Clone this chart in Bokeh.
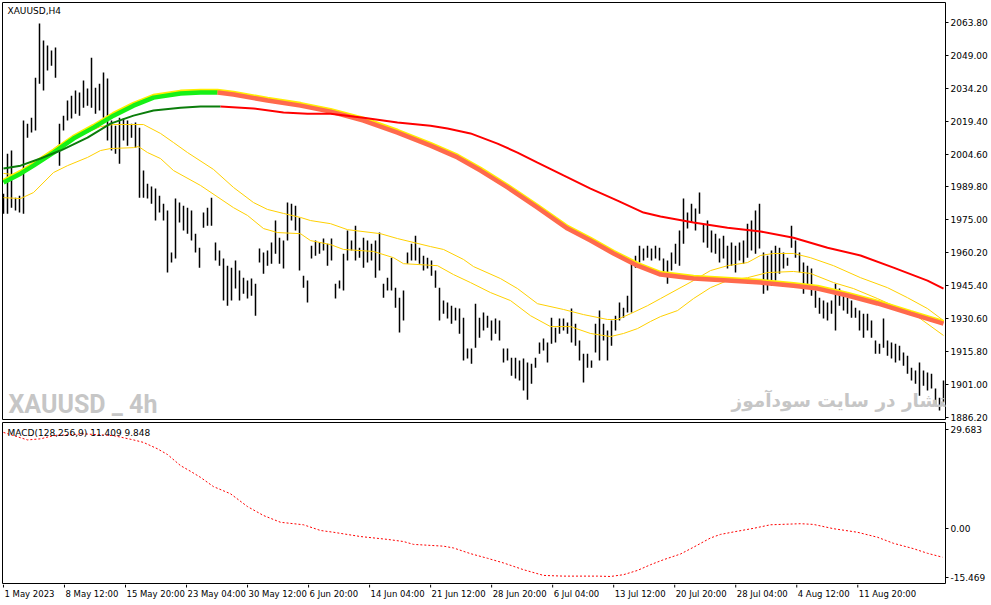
from bokeh.plotting import figure
from bokeh.layouts import column
from bokeh.models import Range1d, FixedTicker, PrintfTickFormatter, CustomJSTickFormatter, Label
from bokeh.core.properties import value
from bokeh.embed import file_html
from bokeh.resources import INLINE

# ---------------- data ----------------
highs = [1986.8, 2004.8, 2006.2, 1985.0, 1985.9, 2019.7, 2018.3, 2021.0, 2039.0, 2063.4,
         2055.7, 2053.5, 2051.2, 2052.5, 2018.3, 2021.9, 2028.7, 2030.9, 2033.2, 2032.3,
         2037.7, 2034.1, 2048.0, 2034.5, 2036.3, 2041.3, 2038.6, 2019.7, 2017.4, 2021.0,
         2020.6, 2019.7, 2018.3, 2018.8, 2016.5, 1997.2, 1991.3, 1990.0, 1989.1, 1985.9,
         1982.3, 1979.2, 1960.3, 1984.6, 1982.8, 1981.4, 1980.5, 1979.2, 1968.8, 1962.5,
         1978.3, 1980.5, 1985.0, 1964.8, 1961.2, 1957.6, 1954.4, 1953.5, 1956.7, 1952.2,
         1949.0, 1947.7, 1948.6, 1946.3, 1962.1, 1960.3, 1961.2, 1964.8, 1974.7, 1967.0,
         1965.7, 1982.8, 1982.3, 1981.4, 1976.0, 1949.9, 1947.7, 1963.4, 1965.7, 1964.8,
         1966.6, 1964.3, 1966.6, 1946.3, 1947.7, 1959.8, 1970.2, 1965.7, 1972.4, 1962.5,
         1967.0, 1965.7, 1964.3, 1965.7, 1969.3, 1946.3, 1949.0, 1958.0, 1944.5, 1940.0,
         1943.2, 1960.3, 1964.3, 1967.9, 1962.5, 1958.9, 1958.0, 1956.7, 1952.2, 1944.5,
         1938.7, 1937.8, 1936.4, 1935.5, 1935.1, 1931.0, 1917.1, 1917.1, 1937.3, 1931.0,
         1933.3, 1931.9, 1929.7, 1930.6, 1929.7, 1917.1, 1917.1, 1913.0, 1913.0, 1911.7,
         1912.6, 1910.8, 1910.3, 1913.0, 1919.8, 1921.6, 1919.8, 1931.0, 1926.5, 1930.6,
         1930.6, 1928.8, 1935.1, 1928.3, 1920.7, 1914.8, 1914.8, 1911.7, 1928.3, 1934.2,
         1928.3, 1925.2, 1929.7, 1931.9, 1937.8, 1935.5, 1940.9, 1956.7, 1958.9, 1963.4,
         1962.1, 1963.4, 1962.1, 1963.4, 1962.5, 1957.6, 1956.7, 1960.3, 1964.3, 1970.2,
         1984.6, 1978.3, 1982.3, 1980.1, 1987.3, 1973.3, 1974.7, 1970.2, 1968.8, 1966.6,
         1967.9, 1963.4, 1964.8, 1963.4, 1964.8, 1965.7, 1973.3, 1974.7, 1979.2, 1982.3,
         1960.3, 1958.9, 1961.2, 1963.4, 1962.5, 1960.3, 1958.0, 1972.4, 1965.7, 1960.3,
         1955.8, 1954.4, 1953.1, 1943.2, 1940.0, 1938.7, 1937.8, 1938.7, 1946.3, 1944.1,
         1941.8, 1940.0, 1938.7, 1935.5, 1934.2, 1932.8, 1932.8, 1929.7, 1920.7, 1919.3,
         1930.6, 1920.7, 1919.8, 1919.3, 1918.4, 1915.3, 1913.9, 1908.5, 1907.2, 1910.8,
         1907.2, 1906.3, 1905.8, 1899.1, 1895.0, 1902.7]
lows = [1977.8, 1977.8, 1980.5, 1979.2, 1978.3, 1977.8, 2012.0, 2014.3, 2015.2, 2036.3,
        2033.2, 2042.2, 2044.4, 2039.0, 1999.4, 2015.2, 2019.7, 2020.6, 2022.8, 2021.9,
        2025.5, 2026.4, 2025.5, 2022.8, 2024.2, 2021.0, 2010.7, 2006.2, 2004.8, 2000.3,
        2010.7, 2008.4, 2012.0, 2007.5, 1985.0, 1985.0, 1984.6, 1982.3, 1974.7, 1978.3,
        1974.7, 1951.3, 1955.8, 1957.6, 1973.8, 1970.2, 1968.8, 1965.7, 1960.3, 1953.5,
        1971.5, 1972.4, 1972.4, 1956.7, 1954.4, 1938.7, 1936.4, 1938.7, 1944.1, 1938.7,
        1941.8, 1939.6, 1940.9, 1931.9, 1955.8, 1950.8, 1954.4, 1955.3, 1959.8, 1955.3,
        1953.1, 1965.7, 1974.7, 1970.2, 1952.2, 1944.5, 1937.8, 1957.6, 1958.9, 1959.8,
        1961.2, 1954.4, 1956.7, 1939.6, 1944.1, 1943.2, 1956.7, 1961.2, 1956.7, 1958.0,
        1953.5, 1955.8, 1956.7, 1949.0, 1952.2, 1940.0, 1943.2, 1943.2, 1935.5, 1924.3,
        1929.7, 1955.3, 1956.7, 1956.7, 1955.3, 1952.2, 1953.1, 1949.9, 1944.5, 1929.7,
        1932.8, 1930.6, 1928.3, 1929.7, 1923.8, 1911.7, 1912.6, 1910.3, 1917.5, 1922.0,
        1925.2, 1926.5, 1920.7, 1923.8, 1920.7, 1910.8, 1911.7, 1904.9, 1903.6, 1902.7,
        1898.2, 1894.1, 1901.3, 1908.5, 1914.8, 1916.2, 1910.8, 1919.3, 1919.8, 1923.8,
        1925.2, 1923.8, 1919.8, 1918.4, 1911.7, 1901.8, 1908.5, 1908.5, 1915.3, 1911.7,
        1920.7, 1911.7, 1918.4, 1925.2, 1929.7, 1931.0, 1933.3, 1933.3, 1953.5, 1955.8,
        1956.7, 1958.0, 1956.7, 1957.6, 1956.7, 1949.9, 1946.3, 1952.2, 1955.3, 1954.4,
        1964.3, 1971.1, 1973.8, 1970.2, 1977.8, 1964.8, 1962.5, 1960.3, 1959.8, 1955.8,
        1957.6, 1953.1, 1954.4, 1951.3, 1956.7, 1955.3, 1958.0, 1961.2, 1959.8, 1962.1,
        1941.8, 1943.2, 1945.4, 1947.7, 1950.8, 1953.1, 1954.4, 1962.5, 1958.0, 1951.3,
        1941.8, 1945.4, 1940.9, 1935.5, 1932.8, 1930.6, 1929.7, 1932.8, 1925.2, 1936.4,
        1934.2, 1932.8, 1931.0, 1931.0, 1925.2, 1922.0, 1925.2, 1922.0, 1914.8, 1914.8,
        1917.5, 1913.9, 1912.6, 1910.8, 1911.7, 1909.4, 1905.8, 1902.7, 1901.3, 1895.9,
        1900.4, 1898.2, 1899.1, 1891.4, 1889.2, 1892.8]
bar_x = [2 * k for k in range(len(highs))]  # H4 bar index (every second bar)

# thick moving average (rising part green, falling part salmon)
thick_up_x = [0, 8.5, 15, 25, 35, 45, 55, 65, 75, 88.5, 98.5, 107]
thick_up_y = [1991.8, 1995.8, 1999.4, 2005.3, 2011.6, 2016.5, 2021.9, 2026.4, 2030.0, 2031.9, 2032.3, 2032.3]
thick_dn_x = [107, 115, 132, 148.5, 163.5, 180, 197, 213.5, 227, 238.5, 252, 267, 282, 293.5, 305, 317,
              328.5, 345, 362, 378.5, 395, 407, 422, 437, 453.5, 470]
thick_dn_y = [2032.3, 2031.4, 2028.7, 2026.4, 2023.7, 2019.7, 2014.3, 2008.4, 2003.1, 1997.2, 1989.6,
              1980.5, 1971.1, 1965.7, 1959.9, 1954.4, 1950.4, 1948.6, 1947.7, 1946.8, 1945.4, 1944.1,
              1941.0, 1937.4, 1932.8, 1928.3]

# slow moving average (dark green rising, red falling)
slow_up_x = [0, 8.5, 18.5, 28.5, 42, 53.5, 65, 75, 88.5, 98.5, 108.5]
slow_up_y = [1998.1, 1999.4, 2002.6, 2006.2, 2012.0, 2018.3, 2021.9, 2024.2, 2025.5, 2026.0, 2026.0]
slow_dn_x = [108.5, 125, 140, 152, 163.5, 180, 197, 213.5, 222, 233.5, 247, 257, 267, 280, 293.5, 307,
             320, 328.5, 345, 362, 378.5, 395, 412, 428.5, 445, 462, 470]
slow_dn_y = [2026.0, 2025.1, 2023.3, 2022.8, 2022.8, 2021.0, 2018.8, 2017.4, 2016.1, 2013.9, 2009.3,
             2005.3, 2000.8, 1995.0, 1989.1, 1983.7, 1978.3, 1976.5, 1973.8, 1971.5, 1969.8, 1967.0,
             1962.5, 1959.0, 1953.5, 1947.7, 1944.1]

# two thin yellow averages
band_up_x = [0, 8.5, 20, 27, 35, 48.5, 55, 70, 78.5, 85, 92, 105, 115, 125, 132, 140, 148.5, 153.5,
             163.5, 172, 188.5, 197, 213.5, 220, 230, 235, 248.5, 257, 267, 280, 290, 302, 307, 313.5,
             322, 328.5, 345, 353.5, 362, 372, 378.5, 385, 395, 403.5, 415, 428.5, 442, 452, 462, 470]
band_up_y = [1995.9, 1995.0, 2003.1, 2008.4, 2011.6, 2017.0, 2017.9, 2017.9, 2013.9, 2009.8, 2005.3,
             1997.7, 1989.6, 1982.8, 1979.7, 1977.9, 1976.1, 1974.7, 1973.3, 1970.6, 1968.8, 1966.6,
             1963.0, 1961.7, 1957.2, 1954.0, 1948.6, 1944.1, 1937.3, 1934.7, 1932.4, 1930.2, 1930.2,
             1932.8, 1936.4, 1939.6, 1947.7, 1952.2, 1954.4, 1955.8, 1959.0, 1959.9, 1959.9, 1958.0,
             1954.4, 1949.0, 1944.5, 1940.0, 1935.1, 1929.7]
band_lo_x = [0, 8.5, 15, 25, 32, 42, 48.5, 53.5, 65, 67.5, 72, 78.5, 85, 98.5, 115, 122, 130, 137,
             148.5, 153.5, 163.5, 170, 185, 195, 200, 217, 225, 233.5, 243.5, 253.5, 263.5, 273.5,
             283.5, 293.5, 303.5, 310, 317, 323.5, 328.5, 337, 345, 353.5, 362, 372, 382, 395, 403.5,
             415, 425, 437, 445, 455, 470]
band_lo_y = [1985.0, 1984.6, 1987.3, 1996.3, 1999.4, 2003.1, 2006.2, 2007.1, 2007.5, 2008.0, 2005.3,
             2002.6, 1997.2, 1990.5, 1980.5, 1977.0, 1971.1, 1969.3, 1968.8, 1965.7, 1963.9, 1961.7,
             1960.8, 1958.0, 1955.3, 1954.4, 1950.4, 1946.8, 1942.3, 1938.7, 1931.9, 1927.0, 1927.0,
             1923.9, 1922.5, 1923.9, 1926.1, 1929.3, 1931.5, 1934.2, 1939.6, 1944.5, 1947.7, 1949.0,
             1951.3, 1951.8, 1950.9, 1946.8, 1944.1, 1939.6, 1936.4, 1932.8, 1923.0]

# MACD signal line
macd_x = [0, 12, 18.5, 25, 40, 55, 65, 70, 77, 82, 88.5, 93.5, 98.5, 105, 113.5, 122, 130, 138.5, 150,
          158.5, 165, 178.5, 192, 200, 205, 220, 225, 233.5, 242, 250, 260, 270, 280, 297, 303.5, 310,
          317, 323.5, 330, 338.5, 345, 353.5, 358.5, 367, 375, 383.5, 398.5, 405, 415, 427, 437, 445,
          455, 462, 469.5]
macd_y = [26.9, 24.8, 25.1, 26.0, 26.5, 26.0, 24.8, 24.1, 22.3, 20.7, 17.6, 16.0, 14.3, 11.7, 9.7, 6.1,
          3.6, 1.7, 1.0, -0.6, -1.1, -2.3, -3.1, -3.7, -4.5, -5.0, -5.5, -7.1, -8.4, -9.7, -11.6, -13.2,
          -13.4, -13.4, -13.5, -13.0, -11.8, -10.2, -8.8, -7.2, -5.3, -2.7, -1.7, -0.8, 0.0, 1.0, 1.3,
          1.1, -0.1, -1.1, -2.5, -4.2, -5.7, -7.0, -8.1]

price_ticks = [2063.8, 2049.0, 2034.2, 2019.4, 2004.6, 1989.8, 1975.0, 1960.2, 1945.4, 1930.6,
               1915.8, 1901.0, 1886.2]
macd_tick_pos = [27.7, 0.0, -13.8]
macd_tick_labels = ["29.683", "0.00", "-15.469"]
time_tick_pos = [0, 32, 64, 96, 128, 160, 192, 224, 256, 288, 320, 352, 384, 416, 448]
time_tick_labels = ["1 May 2023", "8 May 12:00", "15 May 20:00", "23 May 04:00", "30 May 12:00",
                    "6 Jun 20:00", "14 Jun 04:00", "21 Jun 12:00", "28 Jun 20:00", "6 Jul 04:00",
                    "13 Jul 12:00", "20 Jul 20:00", "28 Jul 04:00", "4 Aug 12:00", "11 Aug 20:00"]

symbol_text = "XAUUSD,H4"
macd_text = "MACD(128,256,9) 11.409 9.848"
watermark_en = "XAUUSD _ 4h"
watermark_fa = "انتشار در سایت سودآموز"

# ---------------- layout ----------------
FONT = "DejaVu Sans"
W = 991
LEFT = 2
RIGHT = 46
MAIN_FRAME_H = 417
MACD_FRAME_H = 161
LAB_H = 21

x_range = Range1d(-0.5, 471)
y_lo, y_hi = 1885.2, 2072.8


def style(fig):
    fig.xgrid.visible = False
    fig.ygrid.visible = False
    fig.outline_line_color = "black"
    fig.outline_line_width = 1
    fig.background_fill_color = "white"
    fig.border_fill_color = "white"
    for ax in fig.yaxis:
        ax.axis_line_color = None
        ax.major_tick_out = 3
        ax.major_tick_in = 0
        ax.minor_tick_line_color = None
        ax.major_label_standoff = 2
        ax.major_label_text_font = FONT
        ax.major_label_text_font_size = "9px"
        ax.major_label_text_color = "black"


# main price panel
p = figure(width=W, height=2 + MAIN_FRAME_H + 3, x_range=x_range, y_range=Range1d(y_lo, y_hi),
           x_axis_location=None, y_axis_location="right", toolbar_location=None,
           output_backend="svg", min_border_left=LEFT, min_border_right=RIGHT,
           min_border_top=2, min_border_bottom=3)
shift = 0.7
p.extra_y_ranges = {"edge": Range1d(y_lo - shift, y_hi - shift)}
style(p)
p.yaxis.ticker = FixedTicker(ticks=price_ticks)
p.yaxis.formatter = PrintfTickFormatter(format="%.2f")

p.segment(x0=bar_x, y0=lows, x1=bar_x, y1=highs, line_color="black", line_width=1.5)

p.line(band_up_x, band_up_y, line_color="#ffd000", line_width=1)
p.line(band_lo_x, band_lo_y, line_color="#ffd000", line_width=1)

p.line(thick_up_x + thick_dn_x[1:], thick_up_y + thick_dn_y[1:], line_color="#ffee00",
       line_width=4.5, y_range_name="edge")
p.line(thick_up_x, thick_up_y, line_color="#16f016", line_width=4.5)
p.line(thick_dn_x, thick_dn_y, line_color="#ff6a4d", line_width=4.5)

p.line(slow_up_x, slow_up_y, line_color="#0b7d0b", line_width=2)
p.line(slow_dn_x, slow_dn_y, line_color="#ff0000", line_width=2)

p.add_layout(Label(x=5, y=MAIN_FRAME_H - 8, x_units="screen", y_units="screen", text=symbol_text,
                   text_font=FONT, text_font_size="9px", text_color="black", text_baseline="middle"))
p.add_layout(Label(x=6, y=1, x_units="screen", y_units="screen", text=watermark_en,
                   text_font="Roboto", text_font_style="bold", text_font_size="25px",
                   text_color="#c6c6c6", text_baseline="bottom"))
p.add_layout(Label(x=729, y=19, x_units="screen", y_units="screen", text=watermark_fa,
                   text_font=FONT, text_font_style="bold", text_font_size="18.5px",
                   text_color="#c6c6c6", text_align="left", text_baseline="middle"))

# MACD panel
q = figure(width=W, height=MACD_FRAME_H + 1, x_range=x_range, y_range=Range1d(-15.469, 29.683),
           x_axis_location=None, y_axis_location="right", toolbar_location=None,
           output_backend="svg", min_border_left=LEFT, min_border_right=RIGHT,
           min_border_top=0, min_border_bottom=1)
style(q)
q.yaxis.ticker = FixedTicker(ticks=macd_tick_pos)
q.yaxis.formatter = CustomJSTickFormatter(args=dict(pos=macd_tick_pos, labels=macd_tick_labels), code="""
    for (let i = 0; i < pos.length; i++) { if (Math.abs(pos[i] - tick) < 1e-6) return labels[i]; }
    return "";
""")
q.line(macd_x, macd_y, line_color="#ff0000", line_width=1, line_dash="2 2")
q.add_layout(Label(x=5, y=MACD_FRAME_H - 10, x_units="screen", y_units="screen", text=macd_text,
                   text_font=FONT, text_font_size="9px", text_color="black", text_baseline="middle"))

# time axis strip (ticks + left-aligned labels like the terminal)
r = figure(width=W, height=LAB_H, x_range=Range1d(-0.5, 494), y_range=Range1d(0, LAB_H),
           x_axis_location=None, y_axis_location=None, toolbar_location=None,
           output_backend="svg", min_border_left=LEFT, min_border_right=0,
           min_border_top=0, min_border_bottom=0)
r.xgrid.visible = False
r.ygrid.visible = False
r.outline_line_color = None
r.segment(x0=time_tick_pos, y0=LAB_H, x1=time_tick_pos, y1=LAB_H - 3, line_color="black", line_width=1)
r.text(x=time_tick_pos, y=LAB_H - 9, text=time_tick_labels, x_offset=1,
       text_font=value(FONT), text_font_size=value("8.5px"), text_color="black",
       text_align="left", text_baseline="middle")

layout = column(p, q, r, spacing=0)
open("out.html", "w").write(file_html(layout, INLINE))
